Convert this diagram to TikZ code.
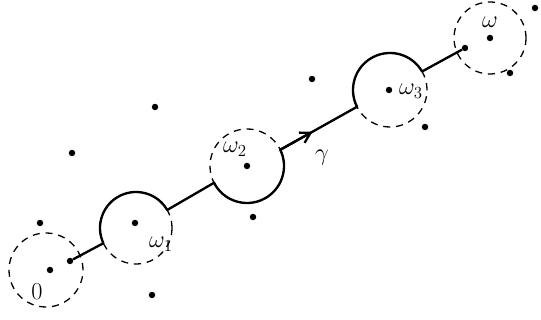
\documentclass[tikz,border=0pt]{standalone}
\usepackage{amsmath}
\usetikzlibrary{calc, arrows.meta}

\begin{document}
\begin{tikzpicture}[
		x=0.03cm, y=0.03cm,
		pt/.style={
			circle,
			fill=black,
			inner sep=0pt,
			minimum size=5.5pt
		},
		disc/.style={
			dash pattern=on 6pt off 5pt,
			line width=1.1pt
		},
		lbl/.style={
			font=\huge,
			inner sep=1pt
		},
		route/.style={
			line width=2pt,
			line join=round
		}
		]
		\useasboundingbox (0,0) rectangle (541,320);
		% Centres
		\coordinate (c0) at (46,50);
		\coordinate (c1) at (136,92);
		\coordinate (c2) at (247,154);
		\coordinate (c3) at (390,230);
		\coordinate (cw) at (490,282);
		% Dashed discs
		\draw[disc] (c0) circle (37);
		\draw[disc] (c1) circle (36);
		\draw[disc] (c2) circle (37);
		\draw[disc] (c3) circle (37);
		\draw[disc] (cw) circle (36);
		% Points
		\node[pt] (p0) at (50,50) {};
		\node[pt] (p1) at (135,97) {};
		\node[pt] (p2) at (247,154) {};
		\node[pt] (p3) at (389,230) {};
		\node[pt] (pw) at (490,282) {};
		\node[pt] (start) at (70,59) {};
		\node[pt] (finish) at (465,272) {};
		\node[pt] (q1) at (40,97) {};
		\node[pt] (q2) at (72,167) {};
		\node[pt] (q3) at (155,213) {};
		\node[pt] (q4) at (152,25) {};
		\node[pt] (q5) at (253,103) {};
		\node[pt] (q6) at (312,241) {};
		\node[pt] (q7) at (425,193) {};
		\node[pt] (q8) at (535,312) {};
		\node[pt] (q9) at (510,247) {};
		% Path
		\coordinate (in1) at ($(c1)+(205:36)$);
		\coordinate (in2) at ($(c2)+(207:37)$);
		\coordinate (ex2) at ($(c2)+(26:37)$);
		\coordinate (in3) at ($(c3)+(207:37)$);
		\draw[route] (start) -- (in1)
			arc[start angle=205, end angle=30, radius=36] -- (in2)
			arc[start angle=207, end angle=386, radius=37] -- (in3)
			arc[start angle=207, end angle=30, radius=37] -- (finish);
		\draw[route, -{Straight Barb[length=3mm, width=3.5mm]}]
			(ex2) -- ($(ex2)!0.42!(in3)$);
		% Labels
		\node[lbl] (l0) at (37,28) {$0$};
		\node[lbl] (l1) at (161,76) {$\omega_1$};
		\node[lbl] (l2) at (235,171) {$\omega_2$};
		\node[lbl] (l3) at (411,229) {$\omega_3$};
		\node[lbl] (lw) at (490,298) {$\omega$};
		\node[lbl] (lg) at (322,162) {$\gamma$};
	\end{tikzpicture}
\end{document}
